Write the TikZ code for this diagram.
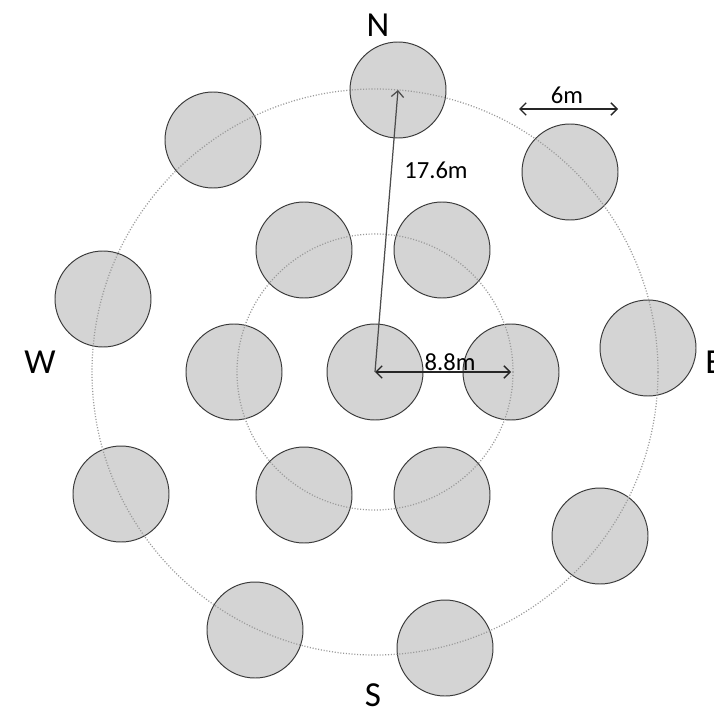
\documentclass[tikz,border=0pt]{standalone}
\usepackage{fontspec}
\setmainfont{Carlito}
\usepackage{tikz}
\usetikzlibrary{arrows.meta,positioning}
\definecolor{TreeGray}{HTML}{D4D4D4}
\definecolor{RimGray}{HTML}{3A3A3A}
\definecolor{RingGray}{HTML}{999999}
\tikzset{
  TR/.style={circle,minimum size=19.2mm,inner sep=0pt,
             fill=TreeGray,draw=RimGray,line width=0.55pt},
  RG/.style={circle,inner sep=0pt,draw=RingGray,line width=0.7pt,
             dash pattern=on 0.6pt off 1pt},
  arr/.style={{Straight Barb[length=3.5pt,width=7pt]}-{Straight Barb[length=3.5pt,width=7pt]},
              line width=0.8pt,draw=black!85},
  arrOne/.style={-{Straight Barb[length=3.5pt,width=7pt]},line width=0.7pt,draw=black!70},
  LB/.style={font=\fontsize{14}{16}\selectfont,inner sep=0pt},
  CP/.style={font=\fontsize{20}{24}\selectfont,inner sep=0pt}
}
\begin{document}
\begin{tikzpicture}[x=0.2mm,y=-0.2mm]
  \useasboundingbox[fill=white] (0,0) rectangle (714,714);
  % centre and inner ring
  \node[TR] (ctr) at (375,372) {};
  \node[TR] (inNW) at (304,250) {};
  \node[TR] (inNE) at (442,250) {};
  \node[TR] (inW)  at (234,372) {};
  \node[TR] (inE)  at (511,372) {};
  \node[TR] (inSW) at (304,495) {};
  \node[TR] (inSE) at (442,495) {};
  % outer ring
  \node[TR] (outN)   at (398,90)  {};
  \node[TR] (outNE)  at (570,172) {};
  \node[TR] (outE)   at (648,348) {};
  \node[TR] (outSE)  at (600,536) {};
  \node[TR] (outS)   at (445,648) {};
  \node[TR] (outSW)  at (255,630) {};
  \node[TR] (outW)   at (121,494) {};
  \node[TR] (outWN)  at (103,299) {};
  \node[TR] (outNW)  at (213,140) {};
  % dotted rings
  \node[RG,minimum size=55.2mm]  (ringIn)  at (ctr.center) {};
  \node[RG,minimum size=113.2mm] (ringOut) at (ctr.center) {};
  % compass
  \node[CP] (lblN) at (378,25)  {N};
  \node[CP] (lblW) at (40,362)  {W};
  \node[CP] (lblE) at (714,362) {E};
  \node[CP] (lblS) at (373,695) {S};
  % dimensions
  \coordinate (spanL) at (519,109);
  \coordinate (spanR) at (618,109);
  \draw[arrOne](ctr.center)--(outN.center);
  \draw[arr](ctr.center)--(inE.center);
  \draw[arr](spanL)--(spanR);
  \node[LB] (lblOut)  at (436,170) {17.6m};
  \node[LB] (lblIn)   at (450,362) {8.8m};
  \node[LB] (lblSpan) at (567,95)  {6m};
\end{tikzpicture}
\end{document}
